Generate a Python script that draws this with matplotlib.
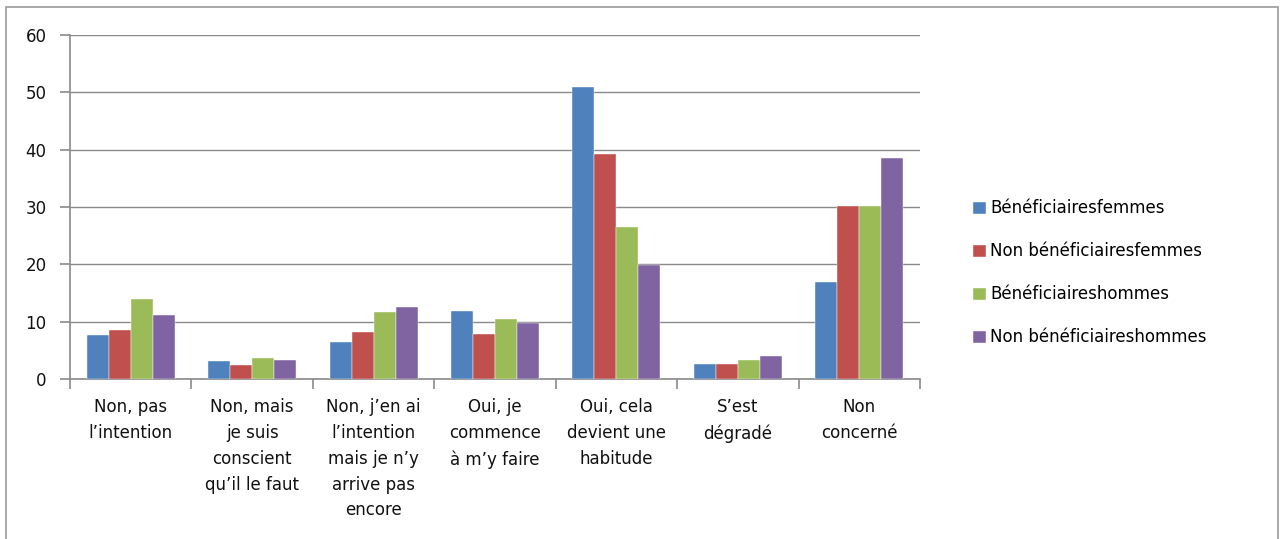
import matplotlib
matplotlib.use("Agg")
import matplotlib.pyplot as plt
import numpy as np
from matplotlib.patches import Rectangle

categories = [
    "Non, pas\nl’intention",
    "Non, mais\nje suis\nconscient\nqu’il le faut",
    "Non, j’en ai\nl’intention\nmais je n’y\narrive pas\nencore",
    "Oui, je\ncommence\nà m’y faire",
    "Oui, cela\ndevient une\nhabitude",
    "S’est\ndégradé",
    "Non\nconcerné",
]
series_names = [
    "Bénéficiairesfemmes",
    "Non bénéficiairesfemmes",
    "Bénéficiaireshommes",
    "Non bénéficiaireshommes",
]
benef_femmes = [7.7, 3.1, 6.5, 11.9, 51.0, 2.6, 16.9]
non_benef_femmes = [8.5, 2.5, 8.2, 7.9, 39.3, 2.6, 30.1]
benef_hommes = [13.9, 3.7, 11.6, 10.5, 26.5, 3.4, 30.1]
non_benef_hommes = [11.1, 3.4, 12.5, 9.7, 19.9, 4.0, 38.6]
yticks = [0, 10, 20, 30, 40, 50, 60]

series = [benef_femmes, non_benef_femmes, benef_hommes, non_benef_hommes]
colors = ["#4F81BD", "#C0504D", "#9BBB59", "#8064A2"]

fig = plt.figure(figsize=(12.8, 5.39), dpi=100)
ax = fig.add_axes([70/1280, 1-379/539, 850/1280, 344/539])

x = np.arange(len(categories))
w = 0.181
for i, (vals, c, name) in enumerate(zip(series, colors, series_names)):
    ax.bar(x + (i - 1.5) * w, vals, width=w, color=c, label=name,
           edgecolor="white", linewidth=0.3, zorder=3)

ax.set_xlim(-0.5, len(categories) - 0.5)
ax.set_ylim(0, 60)
ax.set_yticks(yticks)
ax.set_yticklabels([str(v) for v in yticks])
ax.grid(axis="y", color="#8a8a8a", linewidth=1.0, zorder=0)
ax.set_axisbelow(True)

ax.set_xticks(x)
ax.set_xticklabels(categories, fontsize=12, linespacing=1.55, color="#111111")
ax.set_xticks(np.arange(-0.5, len(categories)), minor=True)
ax.tick_params(axis="x", which="major", length=0, pad=14)
ax.tick_params(axis="x", which="minor", length=7, color="#8a8a8a", width=1.2)
ax.tick_params(axis="y", length=7, color="#8a8a8a", width=1.2, labelsize=12, pad=10, labelcolor="#111111")

for s in ["top", "right"]:
    ax.spines[s].set_visible(False)
for s in ["left", "bottom"]:
    ax.spines[s].set_color("#8a8a8a")
    ax.spines[s].set_linewidth(1.2)

leg = fig.legend(loc="center left", bbox_to_anchor=(958/1280, 1-273/539),
                 frameon=False, fontsize=12, labelspacing=1.5,
                 handlelength=0.75, handleheight=0.75, handletextpad=0.3)

fig.patches.append(Rectangle((6/1280, -0.02), (1278-6)/1280, 1.02 - 7/539,
                             transform=fig.transFigure,
                             fill=False, edgecolor="#9a9a9a", linewidth=1.2))

fig.savefig("out.png", dpi=100)
